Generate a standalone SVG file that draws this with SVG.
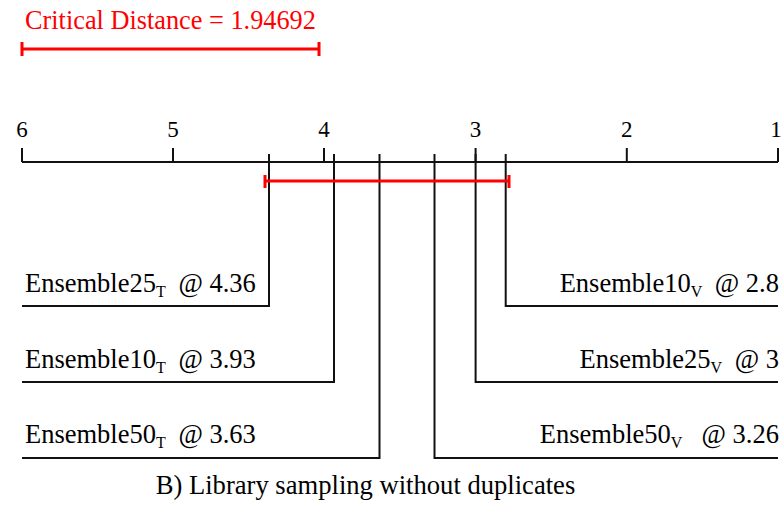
<svg xmlns="http://www.w3.org/2000/svg" width="784" height="514" viewBox="0 0 784 514">
<style>
text{font-family:'Liberation Serif','Times New Roman',serif;fill:#000}
.lbl{font-size:26.5px}
.cdt{font-size:26.3px;fill:#f00}
.ttl{font-size:26.6px;text-anchor:middle}
.tick{font-size:23px;text-anchor:middle}
.sub{font-size:16px}
.ln{stroke:#111;stroke-width:2;fill:none}
.red{stroke:#f00;stroke-width:3;fill:none}
</style>
<rect width="784" height="514" fill="#fff"/>
<g id="cd">
<text x="25" y="29" class="cdt">Critical Distance = 1.94692</text>
<path class="red" d="M22,49H319M22,42V56M319,42V56"/>
</g>
<g id="axis">
<path class="ln" d="M22,162H778M22,148V162M173,148V162M324,148V162M475.6,148V162M626.8,148V162M778,148V162"/>
<text class="tick" x="22" y="137">6</text>
<text class="tick" x="173" y="137">5</text>
<text class="tick" x="324" y="137">4</text>
<text class="tick" x="475.6" y="137">3</text>
<text class="tick" x="626.8" y="137">2</text>
<text class="tick" x="776" y="137">1</text>
</g>
<g id="connectors">
<path class="ln" d="M269,154V306H22"/>
<path class="ln" d="M334,154V382H22"/>
<path class="ln" d="M379.5,154V458H22"/>
<path class="ln" d="M505.7,154V306H778"/>
<path class="ln" d="M475.6,154V382H778"/>
<path class="ln" d="M434.5,154V458H778"/>
<path class="red" d="M265,181H509M265,175V188M509,175V188"/>
</g>
<g id="n-e25t"><text class="lbl" x="25" y="292">Ensemble25<tspan class="sub" dy="5">T</tspan><tspan dy="-5" dx="6"> @ 4.36</tspan></text></g>
<g id="n-e10t"><text class="lbl" x="25" y="368">Ensemble10<tspan class="sub" dy="5">T</tspan><tspan dy="-5" dx="6"> @ 3.93</tspan></text></g>
<g id="n-e50t"><text class="lbl" x="25" y="443">Ensemble50<tspan class="sub" dy="5">T</tspan><tspan dy="-5" dx="6"> @ 3.63</tspan></text></g>
<g id="n-e10v"><text class="lbl" x="779" y="292" text-anchor="end">Ensemble10<tspan class="sub" dy="5">V</tspan><tspan dy="-5" dx="6"> @ 2.8</tspan></text></g>
<g id="n-e25v"><text class="lbl" x="779" y="368" text-anchor="end">Ensemble25<tspan class="sub" dy="5">V</tspan><tspan dy="-5" dx="6"> @ 3</tspan></text></g>
<g id="n-e50v"><text class="lbl" x="779" y="443" text-anchor="end" xml:space="preserve">Ensemble50<tspan class="sub" dy="5">V</tspan><tspan dy="-5" dx="6">  @ 3.26</tspan></text></g>
<text class="ttl" x="365.5" y="494">B) Library sampling without duplicates</text>
</svg>
